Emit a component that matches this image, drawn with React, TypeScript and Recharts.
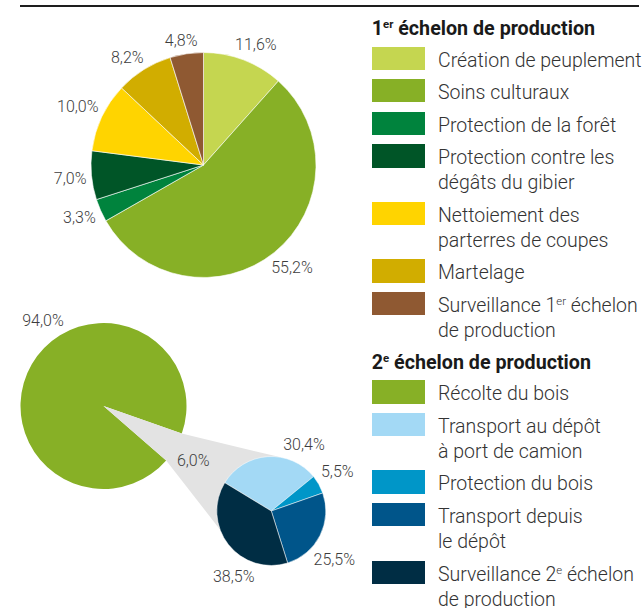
import React from "react";
import { PieChart, Pie, Cell } from "recharts";

// 1er échelon de production
const firstCategories = [
  "Création de peuplement",
  "Soins culturaux",
  "Protection de la forêt",
  "Protection contre les\ndégâts du gibier",
  "Nettoiement des\nparterres de coupes",
  "Martelage",
  "Surveillance 1^{er} échelon\nde production",
];
const firstValues = [11.6, 55.2, 3.3, 7.0, 10.0, 8.2, 4.8];
const firstColors = ["#c5d650", "#87b026", "#00833d", "#005527", "#ffd400", "#d1ad00", "#8f5932"];

// 2e échelon de production : récolte vs. reste (détaillé dans le petit camembert)
const secondCategories = ["Récolte du bois", "Autres"];
const secondValues = [94.0, 6.0];
const secondColors = ["#87b026", "#e3e3e3"];

const detailCategories = [
  "Transport au dépôt\nà port de camion",
  "Protection du bois",
  "Transport depuis\nle dépôt",
  "Surveillance 2^{e} échelon\nde production",
];
const detailValues = [30.4, 5.5, 25.5, 38.5];
const detailColors = ["#a3d9f5", "#0096c8", "#00558a", "#002d44"];

// géométrie
const TOP = { cx: 203.5, cy: 165, r: 112.5 };
const BIG = { cx: 103.5, cy: 406, r: 83, start: -19.4 };
const SMALL = { cx: 271.3, cy: 511, r: 54.5, start: 148.7 };
const CONTACT = [80, 200]; // points d'attache sur le petit camembert (degrés)

// petits décalages angulaires des étiquettes (placement type Excel)
const topNudge = [-2.6, 1.7, -0.8, 0.6, 0.4, 3.2, 1.5];
const bigNudge = [-24.6, -1.2];
const smallNudge = [-30, 1.4, -11, 22];

const RAD = Math.PI / 180;
const FONT = "Roboto, 'Noto Sans', sans-serif";
const fmt = (v: number) => v.toFixed(1).replace(".", ",") + "%";

const toRows = (names: string[], values: number[]) => names.map((name, i) => ({ name, value: values[i] }));

const makeLabel = (nudges: number[]) => (p: any) => {
  const value = p.value ?? p.payload?.value;
  const text = fmt(value);
  const a = (p.midAngle + (nudges[p.index] ?? 0)) * RAD;
  const c = Math.cos(a);
  const s = Math.sin(a);
  const r = p.outerRadius + 4.5 + Math.abs(c) * text.length * 4.1 + Math.abs(s) * 7;
  return (
    <text
      x={p.cx + r * c}
      y={p.cy - r * s}
      textAnchor="middle"
      dominantBaseline="central"
      fill="#3d3d3d"
      fontSize={16}
      fontWeight={300}
      fontFamily={FONT}
    >
      {text}
    </text>
  );
};

const withSup = (line: string) =>
  line.split(/(\^\{.*?\})/).map((part, i) =>
    part.startsWith("^{") ? (
      <sup key={i} style={{ fontSize: "0.58em", verticalAlign: "0.6em", lineHeight: 0 }}>
        {part.slice(2, -1)}
      </sup>
    ) : (
      <React.Fragment key={i}>{part}</React.Fragment>
    )
  );

const LegendGroup = ({ title, names, colors }: { title: string; names: string[]; colors: string[] }) => (
  <div>
    <div style={{ fontWeight: 700, fontSize: 19.7, lineHeight: "25px", color: "#1a1a1a", marginBottom: 5.5 }}>
      {withSup(title)}
    </div>
    {names.map((n, i) => (
      <div key={i} style={{ display: "flex", alignItems: "flex-start", marginBottom: 7.6 }}>
        <div style={{ width: 53.3, height: 23.4, background: colors[i], flex: "none", marginRight: 13 }} />
        <div
          style={{
            fontSize: 19.5,
            fontWeight: 300,
            lineHeight: "25px",
            color: "#333",
            whiteSpace: "nowrap",
            position: "relative",
            top: 1,
          }}
        >
          {n.split("\n").map((l, j) => (
            <div key={j}>{withSup(l)}</div>
          ))}
        </div>
      </div>
    ))}
  </div>
);

export default function App() {
  const gapEnd = BIG.start - (secondValues[1] / secondValues.reduce((a, b) => a + b, 0)) * 360;
  const onCircle = (o: { cx: number; cy: number; r: number }, deg: number) =>
    `${o.cx + o.r * Math.cos(deg * RAD)},${o.cy - o.r * Math.sin(deg * RAD)}`;
  const connector = [
    onCircle(BIG, BIG.start),
    onCircle(SMALL, CONTACT[0]),
    onCircle(SMALL, CONTACT[1]),
    onCircle(BIG, gapEnd),
  ].join(" ");

  return (
    <div style={{ position: "absolute", left: 0, top: 0, width: 644, height: 608, background: "#fff", fontFamily: FONT, overflow: "hidden" }}>
      <div style={{ position: "absolute", left: 20, top: 5, width: 619, height: 1.6, background: "#1e1e1e" }} />

      <svg width={370} height={608} style={{ position: "absolute", left: 0, top: 0 }}>
        <polygon points={connector} fill="#e3e3e3" />
      </svg>

      <div style={{ position: "absolute", left: 0, top: 0 }}>
        <PieChart width={370} height={608} margin={{ top: 0, right: 0, bottom: 0, left: 0 }}>
          <Pie
            data={toRows(firstCategories, firstValues)}
            dataKey="value"
            cx={TOP.cx}
            cy={TOP.cy}
            outerRadius={TOP.r}
            startAngle={90}
            endAngle={-270}
            stroke="#ffffff"
            strokeWidth={0.6}
            label={makeLabel(topNudge)}
            labelLine={false}
            isAnimationActive={false}
          >
            {firstValues.map((_, i) => (
              <Cell key={i} fill={firstColors[i]} />
            ))}
          </Pie>
          <Pie
            data={toRows(secondCategories, secondValues)}
            dataKey="value"
            cx={BIG.cx}
            cy={BIG.cy}
            outerRadius={BIG.r}
            startAngle={BIG.start}
            endAngle={BIG.start + 360}
            stroke="none"
            label={makeLabel(bigNudge)}
            labelLine={false}
            isAnimationActive={false}
          >
            {secondValues.map((_, i) => (
              <Cell key={i} fill={secondColors[i]} />
            ))}
          </Pie>
          <Pie
            data={toRows(detailCategories, detailValues)}
            dataKey="value"
            cx={SMALL.cx}
            cy={SMALL.cy}
            outerRadius={SMALL.r}
            startAngle={SMALL.start}
            endAngle={SMALL.start - 360}
            stroke="#ffffff"
            strokeWidth={0.5}
            label={makeLabel(smallNudge)}
            labelLine={false}
            isAnimationActive={false}
          >
            {detailValues.map((_, i) => (
              <Cell key={i} fill={detailColors[i]} />
            ))}
          </Pie>
        </PieChart>
      </div>

      <div style={{ position: "absolute", left: 371.7, top: 16 }}>
        <LegendGroup title="1^{er} échelon de production" names={firstCategories} colors={firstColors} />
        <LegendGroup
          title="2^{e} échelon de production"
          names={[secondCategories[0], ...detailCategories]}
          colors={[secondColors[0], ...detailColors]}
        />
      </div>
    </div>
  );
}
